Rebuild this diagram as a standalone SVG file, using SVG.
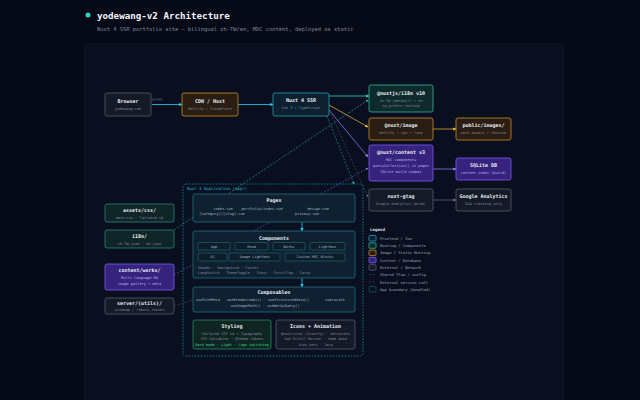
<svg xmlns="http://www.w3.org/2000/svg" width="640" height="400" viewBox="0 0 640 400">
<defs>
<style>
text{font-family:"DejaVu Sans Mono","Liberation Mono",monospace}
.t{font-size:5px;font-weight:bold;fill:#e8ecf3;text-anchor:middle}
.s{font-size:3.6px;fill:#7f889d;text-anchor:middle}
.c{font-size:3.6px;fill:#9fb3c4;text-anchor:middle}
.lg{font-size:3.8px;fill:#9aa3b5}
.gray{fill:#141a27;stroke:#535c6e;stroke-width:0.8}
.orange{fill:#2a1e14;stroke:#c98a2a;stroke-width:0.8}
.cyan{fill:#0d2030;stroke:#1f9fb8;stroke-width:0.8}
.teal{fill:#0f2a2c;stroke:#2bb59d;stroke-width:0.8}
.tealdim{fill:#0f2528;stroke:#24877a;stroke-width:0.8}
.purple{fill:#35237d;stroke:#7c5cf0;stroke-width:0.8}
.sec{fill:#0f2130;stroke:#1e6f7a;stroke-width:0.8}
.chip{fill:#0d1d2a;stroke:#1e6f7a;stroke-width:0.6}
.green{fill:#0f2522;stroke:#23875f;stroke-width:0.8}
.ln{fill:none;stroke-width:0.8}
.dash{stroke-dasharray:2 1.5;stroke-width:0.6;fill:none}
</style>
<marker id="aC" viewBox="0 0 10 10" refX="9" refY="5" markerWidth="4" markerHeight="4" orient="auto"><path d="M0,0L10,5L0,10z" fill="#22d3ee"/></marker>
<marker id="aT" viewBox="0 0 10 10" refX="9" refY="5" markerWidth="4" markerHeight="4" orient="auto"><path d="M0,0L10,5L0,10z" fill="#2dd4bf"/></marker>
<marker id="aO" viewBox="0 0 10 10" refX="9" refY="5" markerWidth="4" markerHeight="4" orient="auto"><path d="M0,0L10,5L0,10z" fill="#f5b82e"/></marker>
<marker id="aP" viewBox="0 0 10 10" refX="9" refY="5" markerWidth="4" markerHeight="4" orient="auto"><path d="M0,0L10,5L0,10z" fill="#9b7cff"/></marker>
<marker id="aG" viewBox="0 0 10 10" refX="9" refY="5" markerWidth="4" markerHeight="4" orient="auto"><path d="M0,0L10,5L0,10z" fill="#6b7385"/></marker>
</defs>
<rect width="640" height="400" fill="#060a17"/>
<circle cx="88" cy="15" r="2.5" fill="#2dd4bf"/>
<text x="97" y="19" style="font-size:9.2px;font-weight:bold;fill:#f1f4f9">yodewang-v2 Architecture</text>
<text x="97" y="30.5" style="font-size:5.4px;fill:#7f889d">Nuxt 4 SSR portfolio site — bilingual zh-TW/en, MDC content, deployed as static</text>
<rect x="85" y="44" width="478" height="370" rx="5" fill="#0a0f20" stroke="#141a2d" stroke-width="1"/>

<g id="app">
<rect x="183" y="184" width="180" height="172" rx="3" fill="#0b1324" fill-opacity="0.3" stroke="#1f9fb8" stroke-width="0.7" stroke-dasharray="1.5 1.5"/>
<text x="187" y="190" style="font-size:4px;fill:#2bb5c8">Nuxt 4 Application (app/)</text>
</g>

<g id="connectors">
<line class="ln" x1="152" y1="104.5" x2="182" y2="104.5" stroke="#22d3ee" marker-end="url(#aC)"/>
<text x="157" y="100.5" class="s" style="text-anchor:middle;fill:#6f7a90">HTTPS</text>
<line class="ln" x1="238" y1="104.5" x2="273" y2="104.5" stroke="#22d3ee" marker-end="url(#aC)"/>
<line class="ln" x1="329" y1="96" x2="369" y2="96" stroke="#2dd4bf" marker-end="url(#aT)"/>
<line class="ln" x1="329" y1="105" x2="368" y2="127" stroke="#e0a52c" marker-end="url(#aO)"/>
<line class="ln" x1="329" y1="110" x2="368" y2="157" stroke="#8b6cf5" marker-end="url(#aP)"/>
<line class="ln" x1="433" y1="169" x2="456" y2="169" stroke="#8b6cf5" marker-end="url(#aP)"/>
<line class="ln" x1="433" y1="129" x2="456" y2="129" stroke="#e0a52c" marker-end="url(#aO)"/>
<line class="ln" x1="433" y1="200" x2="456" y2="200" stroke="#5b6375" marker-end="url(#aG)"/>
<line class="dash" x1="327" y1="116" x2="354" y2="184" stroke="#1f9fb8" marker-end="url(#aC)"/>
<line class="dash" x1="331" y1="114" x2="368" y2="197" stroke="#4a5263" marker-end="url(#aG)"/>
<line class="dash" x1="174" y1="230" x2="368" y2="100" stroke="#2bb59d" marker-end="url(#aT)"/>
<line class="dash" x1="174" y1="275" x2="368" y2="168" stroke="#6d5ad0" marker-end="url(#aP)"/>
<line class="dash" x1="174" y1="306" x2="193" y2="300" stroke="#4a5263"/>
<line class="ln" x1="302" y1="222" x2="302" y2="231" stroke="#22d3ee" marker-end="url(#aC)"/>
<line class="ln" x1="302" y1="278" x2="302" y2="287" stroke="#22d3ee" marker-end="url(#aC)"/>
</g>

<g id="browser"><rect class="gray" x="105" y="93" width="46" height="23" rx="2"/><text class="t" x="128" y="103">Browser</text><text class="s" x="128" y="110">yodewang.com</text></g>
<g id="cdn"><rect class="orange" x="182" y="93" width="56" height="23" rx="2"/><text class="t" x="210" y="103">CDN / Host</text><text class="s" x="210" y="110">Netlify / Cloudflare</text></g>
<g id="nuxt"><rect class="cyan" x="273" y="93" width="56" height="23" rx="2"/><text class="t" x="301" y="102">Nuxt 4 SSR</text><text class="s" x="301" y="109">Vue 3 + TypeScript</text></g>
<g id="i18n"><rect class="teal" x="369" y="85" width="64" height="27" rx="2"/><text class="t" x="401" y="95">@nuxtjs/i18n v10</text><text class="s" x="401" y="101.5">zh-TW (default) + en</text><text class="s" x="401" y="107">no_prefix routing</text></g>
<g id="image"><rect class="orange" x="369" y="118" width="64" height="22" rx="2"/><text class="t" x="401" y="127">@nuxt/image</text><text class="s" x="401" y="134">Netlify + ipx + lazy</text></g>
<g id="public"><rect class="orange" x="456" y="118" width="55" height="22" rx="2"/><text class="t" x="483.5" y="127">public/images/</text><text class="s" x="483.5" y="134">work assets + favicon</text></g>
<g id="content"><rect class="purple" x="369" y="145" width="64" height="36" rx="2"/><text class="t" x="401" y="154">@nuxt/content v3</text><text class="s" x="401" y="161" style="fill:#b9adf0">MDC components</text><text class="s" x="401" y="167" style="fill:#b9adf0">queryCollection() in pages</text><text class="s" x="401" y="173" style="fill:#b9adf0">SQLite build compat</text></g>
<g id="sqlite"><rect class="purple" x="456" y="158" width="55" height="22" rx="2"/><text class="t" x="483.5" y="167">SQLite DB</text><text class="s" x="483.5" y="174" style="fill:#b9adf0">content index (build)</text></g>
<g id="gtag"><rect class="gray" x="369" y="189" width="64" height="22" rx="2"/><text class="t" x="401" y="198">nuxt-gtag</text><text class="s" x="401" y="205">Google Analytics (prod)</text></g>
<g id="ga"><rect class="gray" x="456" y="189" width="55" height="22" rx="2"/><text class="t" x="483.5" y="198">Google Analytics</text><text class="s" x="483.5" y="205">GA4 tracking only</text></g>

<g id="assets"><rect class="tealdim" x="105" y="204" width="69" height="18" rx="2"/><text class="t" x="139.5" y="212">assets/css/</text><text class="s" x="139.5" y="218.5">main.css · Tailwind v4</text></g>
<g id="i18ndir"><rect class="tealdim" x="105" y="230" width="69" height="18" rx="2"/><text class="t" x="139.5" y="238">i18n/</text><text class="s" x="139.5" y="244.5">zh-TW.json · en.json</text></g>
<g id="works"><rect class="purple" x="105" y="264" width="69" height="26" rx="2"/><text class="t" x="139.5" y="272">content/works/</text><text class="s" x="139.5" y="279" style="fill:#b9adf0">Multi-language MD</text><text class="s" x="139.5" y="285" style="fill:#b9adf0">image gallery + meta</text></g>
<g id="server"><rect class="gray" x="105" y="298" width="69" height="16" rx="2"/><text class="t" x="139.5" y="305">server/(utils)/</text><text class="s" x="139.5" y="311">sitemap / robots routes</text></g>

<g id="pages"><rect class="sec" x="193" y="194" width="162" height="28" rx="2"/><text class="t" x="274" y="202">Pages</text>
<text class="c" x="223" y="209.5">index.vue</text><text class="c" x="262" y="209.5">portfolio/index.vue</text><text class="c" x="318" y="209.5">design.vue</text>
<text class="c" x="222" y="215">[category]/[slug].vue</text><text class="c" x="307" y="215">privacy.vue</text></g>
<g id="components"><rect class="sec" x="193" y="231" width="162" height="47" rx="2"/><text class="t" x="274" y="240">Components</text>
<rect class="chip" x="198" y="242.5" width="32" height="7.5" rx="1"/><text class="c" x="214" y="247.5">App</text>
<rect class="chip" x="235" y="242.5" width="33" height="7.5" rx="1"/><text class="c" x="251.5" y="247.5">Head</text>
<rect class="chip" x="273" y="242.5" width="32" height="7.5" rx="1"/><text class="c" x="289" y="247.5">Works</text>
<rect class="chip" x="310" y="242.5" width="35" height="7.5" rx="1"/><text class="c" x="327.5" y="247.5">Lightbox</text>
<rect class="chip" x="198" y="253" width="29" height="8" rx="1"/><text class="c" x="212.5" y="258.3">UI</text>
<rect class="chip" x="229" y="253" width="51" height="8" rx="1"/><text class="c" x="254.5" y="258.3">Image Lightbox</text>
<rect class="chip" x="285" y="253" width="60" height="8" rx="1"/><text class="c" x="315" y="258.3">Custom MDC blocks</text>
<text class="s" x="198" y="268.5" style="text-anchor:start">Header  ·  Navigation  ·  Footer</text>
<text class="s" x="198" y="273.5" style="text-anchor:start">LangSwitch  ·  ThemeToggle  ·  Toast  ·  ScrollTop  ·  Cards</text></g>
<g id="composables"><rect class="sec" x="193" y="287" width="162" height="25" rx="2"/><text class="t" x="274" y="294">Composables</text>
<text class="c" x="208" y="300.5">useSiteMeta</text><text class="c" x="268" y="300.5">useBreadcrumbs()  ·  useStructuredData()</text><text class="c" x="335" y="300.5">useLocale</text>
<text class="c" x="265" y="306.5">useImagePath()  ·  useWorksQuery()</text></g>
<g id="styling"><rect class="green" x="193" y="320" width="78" height="29" rx="2"/><text class="t" x="232" y="328">Styling</text>
<text class="s" x="232" y="334.5">Tailwind CSS v4 + Typography</text><text class="s" x="232" y="340">CSS Variables · @theme tokens</text><text class="s" x="232" y="345.5" style="fill:#34d399">Dark mode · Light · Logo switching</text></g>
<g id="icons"><rect class="gray" x="276" y="320" width="79" height="29" rx="2"/><text class="t" x="315.5" y="328">Icons + Animation</text>
<text class="s" x="315.5" y="334.5">@nuxt/icon (Iconify) · heroicons</text><text class="s" x="315.5" y="340">Vue Scroll Motion · fade anim</text><text class="s" x="315.5" y="345.5">icon sets · lazy</text></g>

<g id="legend">
<text x="370" y="230.5" style="font-size:4.2px;font-weight:bold;fill:#d5dae3">Legend</text>
<rect class="cyan" x="369" y="235.5" width="7" height="5.5" rx="1"/><text class="lg" x="380" y="239.8">Frontend / Vue</text>
<rect class="teal" x="369" y="242.8" width="7" height="5.5" rx="1"/><text class="lg" x="380" y="247.1">Routing / Components</text>
<rect class="orange" x="369" y="250.1" width="7" height="5.5" rx="1"/><text class="lg" x="380" y="254.4">Image / Static Hosting</text>
<rect class="purple" x="369" y="257.4" width="7" height="5.5" rx="1"/><text class="lg" x="380" y="261.7">Content / Database</text>
<rect class="gray" x="369" y="264.7" width="7" height="5.5" rx="1"/><text class="lg" x="380" y="269">External / Network</text>
<line class="dash" x1="369" y1="274.5" x2="376" y2="274.5" stroke="#4a5263"/><text class="lg" x="380" y="276.3">Shared flow / config</text>
<line class="dash" x1="369" y1="281.8" x2="376" y2="281.8" stroke="#4a5263"/><text class="lg" x="380" y="283.6">External service call</text>
<rect x="369" y="286.5" width="7" height="5.5" rx="1" fill="none" stroke="#1f9fb8" stroke-width="0.6" stroke-dasharray="1.5 1"/><text class="lg" x="380" y="290.9">App boundary (bundled)</text>
</g>
</svg>
